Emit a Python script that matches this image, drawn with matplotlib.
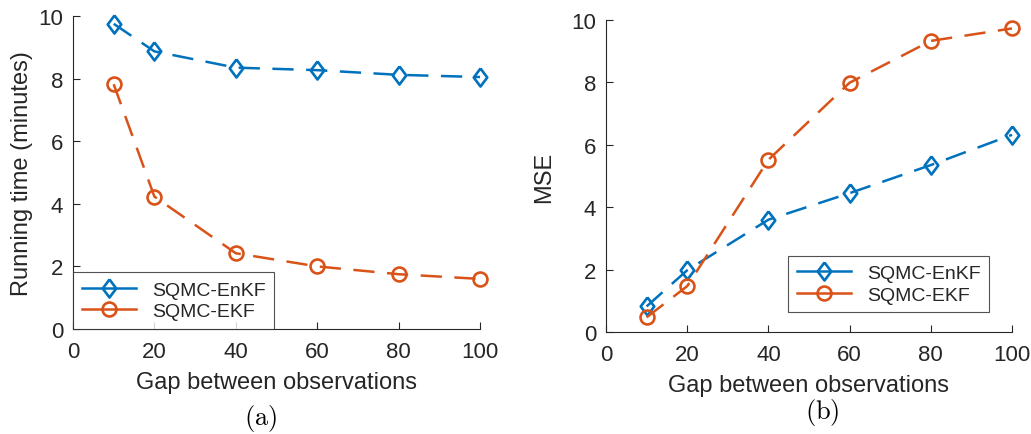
import matplotlib
matplotlib.use('Agg')
import matplotlib.pyplot as plt

plt.rcParams['font.family'] = ['Liberation Sans', 'DejaVu Sans']
plt.rcParams['mathtext.fontset'] = 'cm'

# данные
gap = [10, 20, 40, 60, 80, 100]
time_enkf = [9.75, 8.87, 8.35, 8.27, 8.12, 8.05]
time_ekf = [7.82, 4.23, 2.42, 2.0, 1.75, 1.6]
mse_enkf = [0.82, 1.98, 3.6, 4.45, 5.35, 6.32]
mse_ekf = [0.47, 1.47, 5.52, 7.99, 9.33, 9.73]
labels = ['SQMC-EnKF', 'SQMC-EKF']

blue = '#0072BD'
orange = '#D95319'
grey = '#262626'

# ромб как в MATLAB (чуть уже, чем высота)
diamond = [(0, 1), (0.75, 0), (0, -1), (-0.75, 0), (0, 1)]

fig = plt.figure(figsize=(10.31, 4.35), dpi=100)
ax1 = fig.add_axes([73 / 1031, 1 - 330 / 435, 407 / 1031, 313 / 435])
ax2 = fig.add_axes([606 / 1031, 1 - 333 / 435, 406 / 1031, 312 / 435])


def style(ax):
    ax.set_xlim(0, 100)
    ax.set_ylim(0, 10)
    ax.set_xticks([0, 20, 40, 60, 80, 100])
    ax.set_yticks([0, 2, 4, 6, 8, 10])
    for s in ['top', 'right']:
        ax.spines[s].set_visible(False)
    for s in ['left', 'bottom']:
        ax.spines[s].set_color(grey)
        ax.spines[s].set_linewidth(0.8)
    ax.tick_params(direction='in', length=5, width=0.8, colors=grey,
                   labelsize=16)
    ax.tick_params(axis='x', pad=9)
    ax.tick_params(axis='y', pad=7)
    ax.set_xlabel('Gap between observations', fontsize=17, color=grey, labelpad=6)


dash = (0, (8.5, 5))
for ax, a, b in [(ax1, time_enkf, time_ekf), (ax2, mse_enkf, mse_ekf)]:
    ax.plot(gap, a, color=blue, linestyle=dash, linewidth=1.8, marker=diamond,
            markersize=13, markerfacecolor='none', markeredgewidth=1.9,
            label=labels[0], clip_on=False)
    ax.plot(gap, b, color=orange, linestyle=dash, linewidth=1.8, marker='o',
            markersize=10, markerfacecolor='none', markeredgewidth=1.9,
            label=labels[1], clip_on=False)
    style(ax)

ax1.set_ylabel('Running time (minutes)', fontsize=17, color=grey, labelpad=4)
ax2.set_ylabel('MSE', fontsize=17, color=grey, labelpad=12)

for ax, anchor in [(ax1, (0.0, 0.0)), (ax2, (0.448, 0.063))]:
    leg = ax.legend(loc='lower left', bbox_to_anchor=anchor, fontsize=14,
                    frameon=True, fancybox=False, borderaxespad=0,
                    handlelength=2.8, handletextpad=0.8, borderpad=0.45,
                    labelspacing=0.2)
    leg.get_frame().set_edgecolor(grey)
    leg.get_frame().set_linewidth(0.8)
    for h in leg.get_lines():
        h.set_linestyle('-')
    for t in leg.get_texts():
        t.set_color(grey)

fig.text(261 / 1031, 1 - 419 / 435, r'$\mathrm{(a)}$', fontsize=19, ha='center', va='center')
fig.text(822 / 1031, 1 - 413 / 435, r'$\mathrm{(b)}$', fontsize=19, ha='center', va='center')

fig.savefig('out.png', dpi=100)
